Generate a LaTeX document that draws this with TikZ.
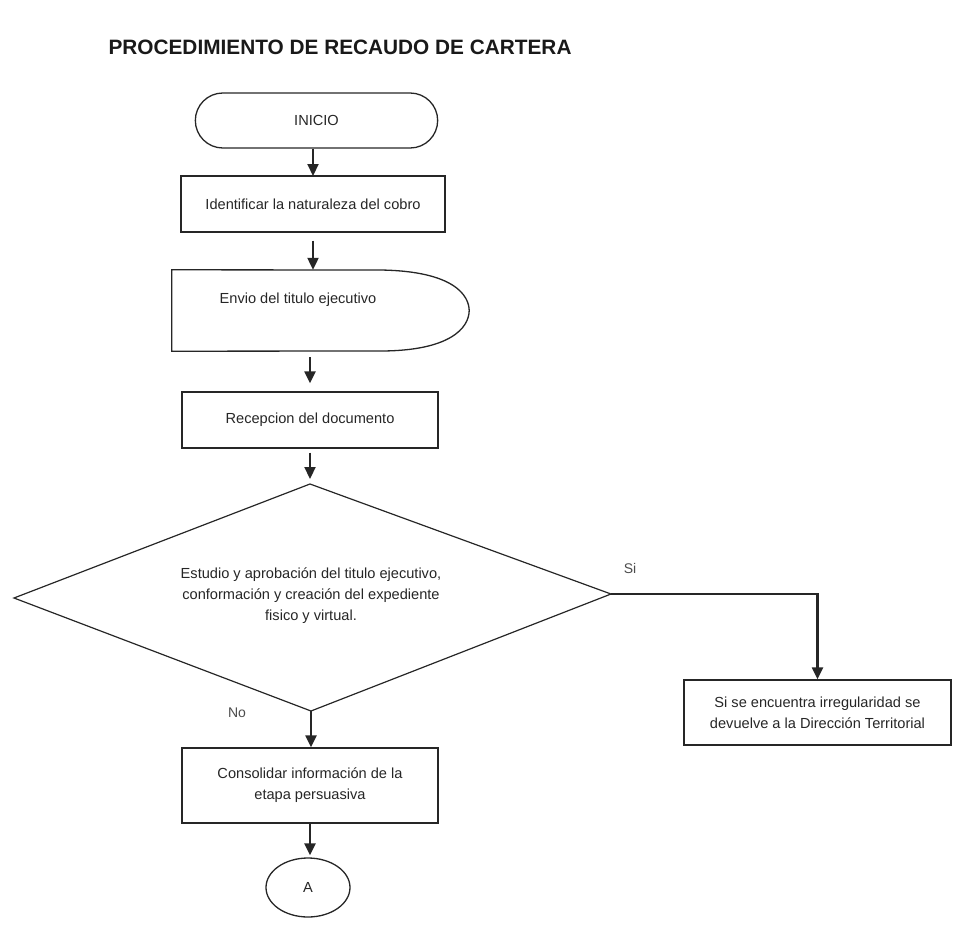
\documentclass[tikz,border=0pt]{standalone}
\usepackage{fontspec}
\setmainfont{Liberation Sans}
\usetikzlibrary{arrows.meta,shapes.geometric,shapes.misc}
\begin{document}
\begin{tikzpicture}[x=1pt,y=-1pt,
  shapeline/.style={draw=black!85,line width=1.3pt},
  txt/.style={font=\fontsize{14.6}{21}\selectfont,text=black!85},
  procbox/.style={shapeline,rectangle,inner sep=0pt,align=center,txt},
  flowarrow/.style={line width=2.2pt,draw=black!85,-{Triangle[length=12pt,width=11pt]}},
  lbl/.style={font=\fontsize{14}{16}\selectfont,text=black!70}]
\useasboundingbox (0,0) rectangle (953,934);
\node[font=\fontsize{20.8}{24}\bfseries\selectfont,anchor=west,text=black!90] (title) at (105,47) {PROCEDIMIENTO DE RECAUDO DE CARTERA};
% INICIO
\node[shapeline,rounded rectangle,minimum width=249pt,minimum height=55pt,txt] (inicio) at (316.5,120.5) {INICIO};
% Box 1
\node[procbox,minimum width=264pt,minimum height=56pt] (ident) at (313,204) {Identificar la naturaleza del cobro};
% Envio (delay-like shape)
\node[inner sep=0pt,minimum width=297pt,minimum height=81pt] (envio) at (320.5,310.5) {};
\node[txt] (enviotxt) at (298,300) {Envio del titulo ejecutivo};
\draw[shapeline] (envio.north west) -- (380,270) .. controls (455,271) and (469,296) .. (envio.east) .. controls (469,328) and (450,351) .. (380,351) -- (envio.south west) -- cycle;
% Recepcion
\node[procbox,minimum width=256pt,minimum height=56pt] (recep) at (310,420) {Recepcion del documento};
% Diamond
\coordinate (dtop) at (310,484);
\coordinate (dleft) at (14,598);
\coordinate (dright) at (611,594);
\coordinate (dbot) at (311,711);
\draw[shapeline,line width=1.2pt] (dtop) -- (dright) -- (dbot) -- (dleft) -- cycle;
\node[txt,align=center] (decide) at (311,596) {Estudio y aprobación del titulo ejecutivo,\\conformación y creación del expediente\\fisico y virtual.};
% Right box
\node[procbox,minimum width=267pt,minimum height=65pt] (irreg) at (817.5,712.5) {Si se encuentra irregularidad se\\devuelve a la Dirección Territorial};
% Consolidar
\node[procbox,minimum width=256pt,minimum height=75pt] (consol) at (310,785.5) {Consolidar información de la\\etapa persuasiva};
% Connector A
\node[shapeline,ellipse,minimum width=84pt,minimum height=59pt,inner sep=0pt,txt] (conA) at (308,887.5) {A};
% labels
\node[lbl] (si) at (630,568) {Si};
\node[lbl] (no) at (237,713) {No};
% arrows
\draw[flowarrow] (inicio.south -| 313,0) -- (313,176);
\draw[flowarrow,shorten <=8pt] (ident.south -| 313,0) -- (envio.north -| 313,0);
\draw[flowarrow,shorten <=6pt,shorten >=8pt] (envio.south -| 310,0) -- (recep.north -| 310,0);
\draw[flowarrow,shorten <=4pt,shorten >=5pt] (recep.south -| 310,0) -- (dtop);
\draw[flowarrow] (dbot) -- (consol.north -| 311,0);
\draw[flowarrow,shorten >=2pt] (consol.south -| 310,0) -- (conA.north -| 310,0);
\draw[flowarrow] (dright) -- (dright -| irreg.north) -- (irreg.north);
\end{tikzpicture}
\end{document}
